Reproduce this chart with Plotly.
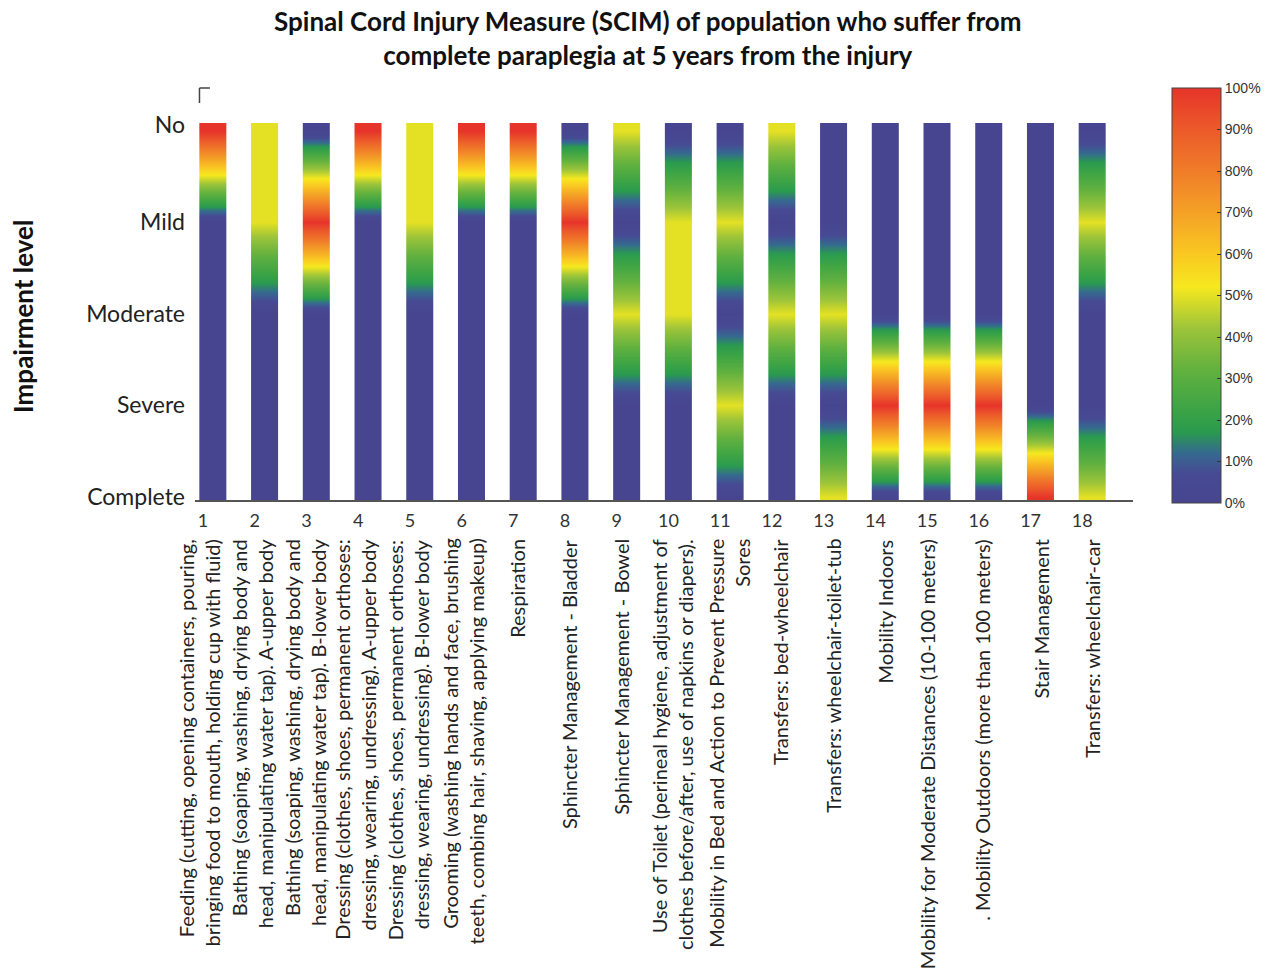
import plotly.graph_objects as go

# ---------------- data ----------------
item_numbers = list(range(1, 19))
item_labels = [
    "Feeding (cutting, opening containers, pouring,<br>bringing food to mouth, holding cup with fluid)",
    "Bathing (soaping, washing, drying body and<br>head, manipulating water tap). A-upper body",
    "Bathing (soaping, washing, drying body and<br>head, manipulating water tap). B-lower body",
    "Dressing (clothes, shoes, permanent orthoses:<br>dressing, wearing, undressing). A-upper body",
    "Dressing (clothes, shoes, permanent orthoses:<br>dressing, wearing, undressing). B-lower body",
    "Grooming (washing hands and face, brushing<br>teeth, combing hair, shaving, applying makeup)",
    "Respiration",
    "Sphincter Management - Bladder",
    "Sphincter Management - Bowel",
    "Use of Toilet (perineal hygiene, adjustment of<br>clothes before/after, use of napkins or diapers).",
    "Mobility in Bed and Action to Prevent Pressure<br>Sores",
    "Transfers: bed-wheelchair",
    "Transfers: wheelchair-toilet-tub",
    "Mobility Indoors",
    "Mobility for Moderate Distances (10-100 meters)",
    ". Mobility Outdoors (more than 100 meters)",
    "Stair Management",
    "Transfers: wheelchair-car",
]
level_names = ["Complete", "Severe", "Moderate", "Mild", "No"]

# percentage of population at each impairment level, per SCIM item
no_pct       = [100, 50, 0, 100, 50, 100, 100, 0, 50, 0, 0, 50, 0, 0, 0, 0, 0, 0]
mild_pct     = [0, 50, 100, 0, 50, 0, 0, 100, 0, 50, 50, 0, 0, 0, 0, 0, 0, 50]
moderate_pct = [0, 0, 0, 0, 0, 0, 0, 0, 50, 50, 0, 50, 50, 0, 0, 0, 0, 0]
severe_pct   = [0, 0, 0, 0, 0, 0, 0, 0, 0, 0, 50, 0, 0, 100, 100, 100, 0, 0]
complete_pct = [0, 0, 0, 0, 0, 0, 0, 0, 0, 0, 0, 0, 50, 0, 0, 0, 100, 50]

colorbar_ticks = [0, 10, 20, 30, 40, 50, 60, 70, 80, 90, 100]

# ---------------- style ----------------
colorscale = [
    [0.00, "#47458f"],
    [0.07, "#474a93"],
    [0.12, "#35698f"],
    [0.17, "#2a9a4f"],
    [0.22, "#3aa346"],
    [0.32, "#62b13f"],
    [0.42, "#9cc43a"],
    [0.52, "#f6e81e"],
    [0.60, "#f9c822"],
    [0.70, "#f4a126"],
    [0.80, "#f07c29"],
    [0.90, "#ec5a2a"],
    [1.00, "#e6342a"],
]

W, H = 1277, 974
L_M, R_M, T_M, B_M = 195, 139, 123, 474
PW, PH = W - L_M - R_M, H - T_M - B_M

def px_to_paper_x(px):
    return (px - L_M) / PW

def px_to_paper_y(py):
    return (H - B_M - py) / PH

BAR_LEFT = -0.07   # bar left edge relative to tick
BAR_W = 0.52       # bar width in x units
label_font = "Lato, 'Open Sans', sans-serif"

fig = go.Figure()
level_pos = list(range(len(level_names)))
for i, n in enumerate(item_numbers):
    col = [complete_pct[i], severe_pct[i], moderate_pct[i], mild_pct[i], no_pct[i]]
    d = BAR_W / 2
    x0 = n + BAR_LEFT + d / 2
    fig.add_trace(go.Heatmap(
        x=[x0, x0 + d],
        y=level_pos,
        z=[[v, v] for v in col],
        zsmooth="best",
        zmin=0, zmax=100,
        colorscale=colorscale,
        showscale=(i == 0),
        hoverinfo="skip",
        colorbar=dict(
            x=px_to_paper_x(1177), xanchor="left", xpad=0,
            y=px_to_paper_y(295.5), yanchor="middle", ypad=0,
            len=415, lenmode="pixels",
            thickness=49, thicknessmode="pixels",
            outlinecolor="#444", outlinewidth=1,
            tickvals=colorbar_ticks,
            ticktext=[f"{t}%" for t in colorbar_ticks],
            ticks="inside", ticklen=4, tickcolor="#333",
            tickfont=dict(family="Liberation Sans, Arial, sans-serif", size=14, color="#333"),
        ),
    ))

annotations = []
# rotated item labels
label_shift = [-4, -3, -2, -4, -2, 1, 3, 4, 4, 3, 8, 8, 9, 10, 0, 3, 10, 9]
for n, lab, sh in zip(item_numbers, item_labels, label_shift):
    annotations.append(dict(
        x=n, xref="x", y=px_to_paper_y(537), yref="paper",
        xanchor="center", yanchor="top", xshift=sh,
        text=lab, textangle=-90, align="right", showarrow=False,
        font=dict(family=label_font, size=20, color="#222"),
    ))

# title
annotations.append(dict(
    x=px_to_paper_x(650), xref="paper", y=px_to_paper_y(3), yref="paper",
    xanchor="center", yanchor="top", showarrow=False,
    text="<b>Spinal Cord Injury Measure (SCIM) of population who suffer from<br>complete paraplegia at 5 years from the injury</b>",
    font=dict(family=label_font, size=26, color="#111"),
))
# y axis title
annotations.append(dict(
    x=px_to_paper_x(22), xref="paper", y=px_to_paper_y(316), yref="paper",
    xanchor="center", yanchor="middle", showarrow=False, textangle=-90,
    text="<b>Impairment level</b>",
    font=dict(family=label_font, size=26, color="#111"),
))

shapes = [
    dict(type="line", xref="paper", yref="paper",
         x0=px_to_paper_x(199.5), x1=px_to_paper_x(210),
         y0=px_to_paper_y(88), y1=px_to_paper_y(88),
         line=dict(color="#444", width=1.5)),
    dict(type="line", xref="paper", yref="paper",
         x0=px_to_paper_x(199.5), x1=px_to_paper_x(199.5),
         y0=px_to_paper_y(88), y1=px_to_paper_y(103),
         line=dict(color="#444", width=1.5)),
]

fig.update_layout(
    width=W, height=H,
    margin=dict(l=L_M, r=R_M, t=T_M, b=B_M),
    paper_bgcolor="white", plot_bgcolor="white",
    showlegend=False,
    annotations=annotations,
    shapes=shapes,
    xaxis=dict(
        range=[0.846, 18.98],
        tickvals=item_numbers,
        ticktext=[str(n) for n in item_numbers],
        showgrid=False, zeroline=False,
        showline=True, linecolor="#555", linewidth=1.5,
        ticks="", ticklabelstandoff=4,
        tickfont=dict(family=label_font, size=18, color="#333"),
    ),
    yaxis=dict(
        range=[-0.038, 4.082],
        tickvals=[0, 1, 2, 3, 4.06],
        ticktext=level_names,
        showgrid=False, zeroline=False, showline=False,
        ticks="", ticklabelstandoff=9,
        tickfont=dict(family=label_font, size=23, color="#222"),
    ),
)

fig.write_html("out.html")
